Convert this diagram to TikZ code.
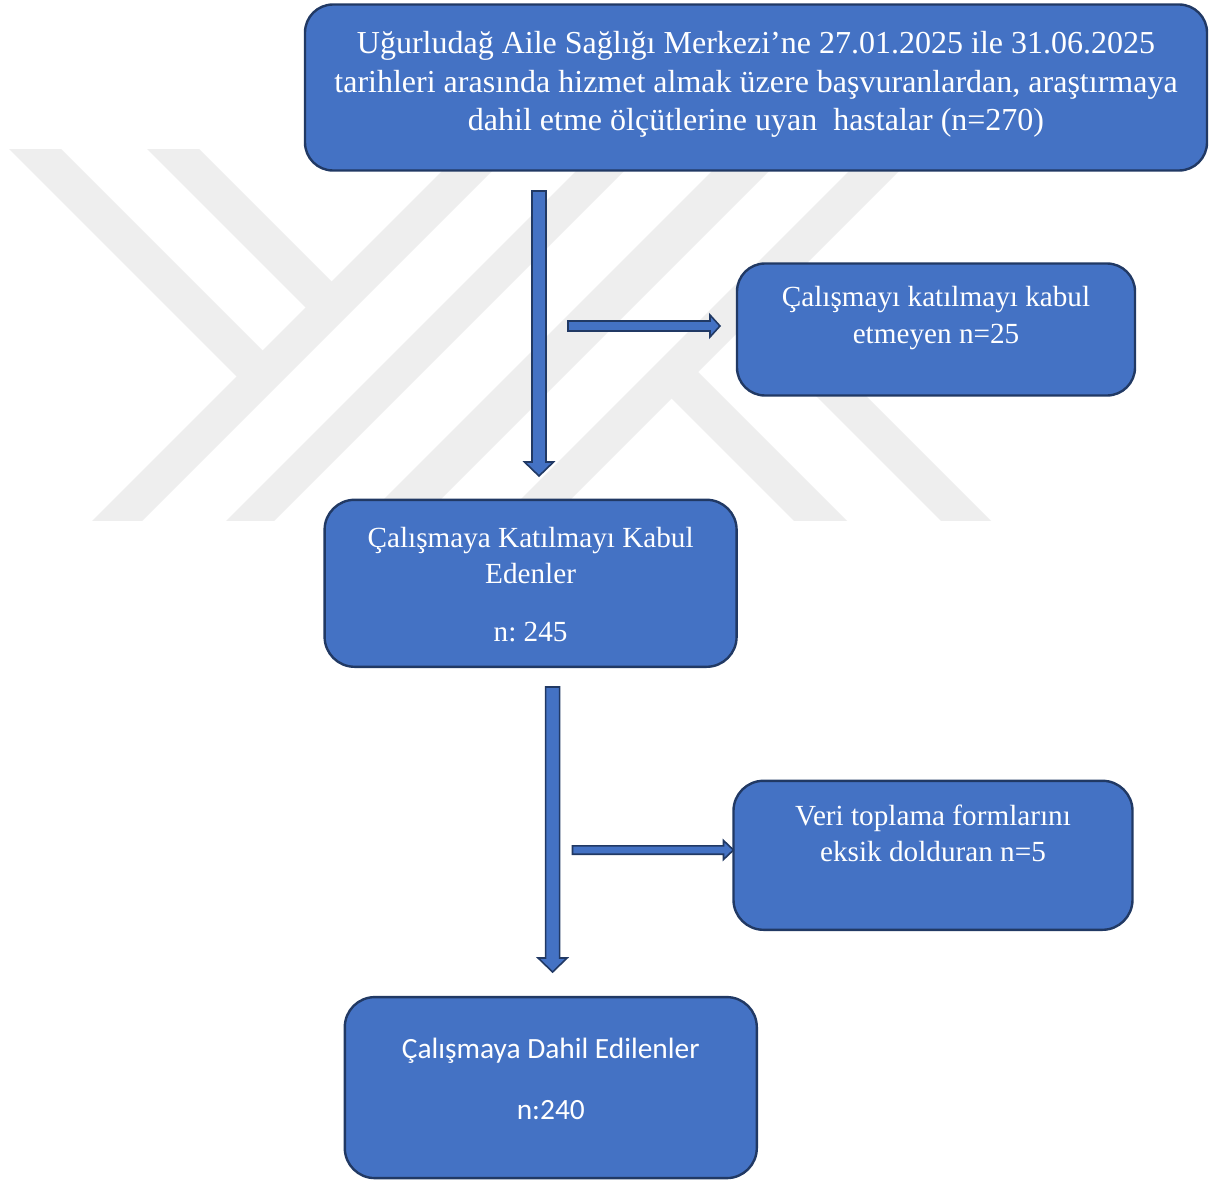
\documentclass[tikz,border=0pt]{standalone}
\usepackage{fontspec}
\setmainfont{Liberation Serif}
\newfontfamily\calfont{Carlito}
\usetikzlibrary{calc}
\frenchspacing
\definecolor{boxblue}{RGB}{68,114,196}
\definecolor{boxedge}{RGB}{33,57,100}
\definecolor{wmgray}{RGB}{238,238,238}
\newcommand{\fsTop}{\frenchspacing\fontsize{32}{38}\selectfont}
\newcommand{\fsMid}{\frenchspacing\fontsize{29.2}{35}\selectfont}
\newcommand{\fsBot}{\frenchspacing\calfont\fontsize{29.4}{35}\selectfont}
\tikzset{
  box/.style={draw=boxedge, fill=boxblue, line width=2.4pt, rounded corners=28pt, inner sep=0pt},
  txt/.style={text=white, inner sep=0pt, anchor=base},
  barrow/.style={draw=boxedge, fill=boxblue, line width=1.6pt, line join=miter},
  wm/.style={fill=wmgray, draw=none},
}
\newcommand{\vblock}[2]{\path[barrow] let \p1=(#1), \p2=(#2) in
  (\x1-7pt,\y1) -- (\x1-7pt,\y2+14pt) -- (\x1-14.5pt,\y2+14pt) -- (\x1,\y2)
  -- (\x1+14.5pt,\y2+14pt) -- (\x1+7pt,\y2+14pt) -- (\x1+7pt,\y1) -- cycle;}
\newcommand{\hblock}[4]{\path[barrow] let \p1=(#1), \p2=(#2) in
  (\x1,\y1+#3) -- (\x2-10pt,\y1+#3) -- (\x2-10pt,\y1+#4) -- (\x2,\y1)
  -- (\x2-10pt,\y1-#4) -- (\x2-10pt,\y1-#3) -- (\x1,\y1-#3) -- cycle;}
\begin{document}
\begin{tikzpicture}[x=1pt,y=-1pt]
\useasboundingbox (0,0) rectangle (1219,1180);
\fill[white] (0,0) rectangle (1219,1180);
% watermark
\begin{scope}
  \clip (0,150) rectangle (1219,520);
  \fill[wm] (83,530) -- (133,530) -- (523,140) -- (473,140) -- cycle;
  \fill[wm] (217,530) -- (265,530) -- (655,140) -- (607,140) -- cycle;
  \fill[wm] (353,530) -- (410,530) -- (800,140) -- (743,140) -- cycle;
  \fill[wm] (490,530) -- (540,530) -- (930,140) -- (880,140) -- cycle;
  \fill[wm] (0,140) -- (52,140) -- (276,364) -- (250,390) -- cycle;
  \fill[wm] (138,140) -- (190,140) -- (345,295) -- (319,321) -- cycle;
  \fill[wm] (659,386) -- (685.5,359.5) -- (856,530) -- (803,530) -- cycle;
  \fill[wm] (732.5,312.5) -- (757.5,287.5) -- (1000,530) -- (950,530) -- cycle;
\end{scope}
% boxes
\node[box, minimum width=902pt, minimum height=166pt] (top) at (756,87.5) {};
\node[box, minimum width=398pt, minimum height=132pt] (refuse) at (936,329.5) {};
\node[box, minimum width=412pt, minimum height=167pt, rounded corners=30pt] (accept) at (530.6,583.3) {};
\node[box, minimum width=399pt, minimum height=149pt, rounded corners=30pt] (missing) at (933,855.3) {};
\node[box, minimum width=412pt, minimum height=181pt, rounded corners=30pt] (final) at (550.8,1087.6) {};
% texts
\node[txt, font=\fsTop] (t1) at (756,53.3) {Uğurludağ Aile Sağlığı Merkezi’ne 27.01.2025 ile 31.06.2025};
\node[txt, font=\fsTop] (t2) at (756,92.7) {tarihleri arasında hizmet almak üzere başvuranlardan, araştırmaya};
\node[txt, font=\fsTop] (t3) at (756,131) {dahil etme ölçütlerine uyan~ hastalar (n=270)};
\node[txt, font=\fsMid] (r1) at (936,306.7) {Çalışmayı katılmayı kabul};
\node[txt, font=\fsMid] (r2) at (936,343.3) {etmeyen n=25};
\node[txt, font=\fsMid] (m1) at (530.6,547) {Çalışmaya Katılmayı Kabul};
\node[txt, font=\fsMid] (m2) at (530.6,583) {Edenler};
\node[txt, font=\fsMid] (m3) at (530.6,641) {n: 245};
\node[txt, font=\fsMid] (s1) at (933,825) {Veri toplama formlarını};
\node[txt, font=\fsMid] (s2) at (933,861) {eksik dolduran n=5};
\node[txt, font=\fsBot] (f1) at (550.8,1058.3) {Çalışmaya Dahil Edilenler};
\node[txt, font=\fsBot] (f2) at (550.8,1119.3) {n:240};
% arrows
\coordinate (a1s) at (539,191);
\coordinate (a1e) at (539,476);
\coordinate (b1s) at (568,326);
\coordinate (b1e) at (720,326);
\coordinate (a2s) at (552.6,687);
\coordinate (a2e) at (552.6,972);
\coordinate (b2s) at (572.5,850);
\coordinate (b2e) at (733.5,850);
\vblock{a1s}{a1e}
\hblock{b1s}{b1e}{5pt}{11pt}
\vblock{a2s}{a2e}
\hblock{b2s}{b2e}{4.2pt}{9.5pt}
\end{tikzpicture}
\end{document}
